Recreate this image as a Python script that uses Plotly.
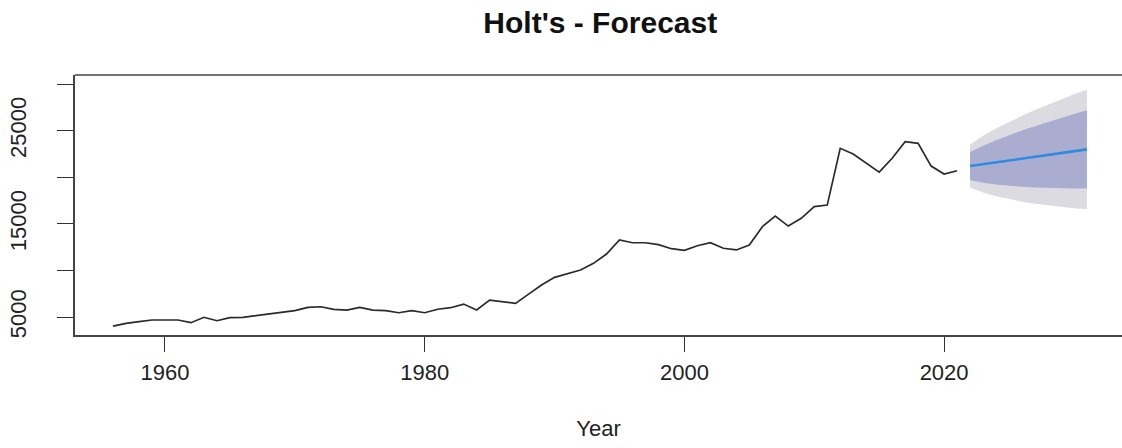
import plotly.graph_objects as go

# Annual series, 1956-2021
years = list(range(1956, 2022))
values = [
    4030, 4320, 4500, 4680, 4680, 4680, 4390, 4970, 4600, 4930,
    4970, 5140, 5290, 5500, 5680, 6040, 6100, 5830, 5750, 6040,
    5750, 5680, 5460, 5680, 5460, 5830, 6000, 6390, 5750, 6820,
    6640, 6470, 7450, 8430, 9260, 9690, 10040, 10760, 11760, 13260,
    12970, 12970, 12760, 12330, 12160, 12650, 12970, 12380, 12200, 12730,
    14690, 15840, 14760, 15590, 16850, 17010, 23100, 22490, 21490, 20550,
    22030, 23810, 23640, 21200, 20340, 20700,
]

# Holt's linear trend forecast, 10 steps ahead
fc_years = list(range(2022, 2032))
fc_mean = [21200, 21400, 21590, 21790, 21990, 22190, 22390, 22590, 22790, 22990]
lo80 = [19700, 19410, 19210, 19070, 18970, 18900, 18850, 18820, 18800, 18790]
hi80 = [22700, 23390, 23970, 24510, 25010, 25480, 25930, 26360, 26780, 27190]
lo95 = [18900, 18360, 17950, 17630, 17380, 17160, 16980, 16820, 16680, 16560]
hi95 = [23500, 24440, 25240, 25950, 26600, 27220, 27800, 28360, 28900, 29420]

y_ticks = [5000, 10000, 15000, 20000, 25000, 30000]
y_tick_text = ["5000", "", "15000", "", "25000", ""]
x_ticks = [1960, 1980, 2000, 2020]

FONT = "Liberation Sans, Arial, sans-serif"
FRAME = "#444444"

fig = go.Figure()

# 95% band
fig.add_trace(go.Scatter(
    x=fc_years + fc_years[::-1], y=hi95 + lo95[::-1],
    fill="toself", fillcolor="#DBDBE1", line=dict(width=0),
    mode="lines", hoverinfo="skip", showlegend=False,
))
# 80% band
fig.add_trace(go.Scatter(
    x=fc_years + fc_years[::-1], y=hi80 + lo80[::-1],
    fill="toself", fillcolor="#ABADD0", line=dict(width=0),
    mode="lines", hoverinfo="skip", showlegend=False,
))
# history
fig.add_trace(go.Scatter(
    x=years, y=values, mode="lines",
    line=dict(color="#2a2a2a", width=1.7), showlegend=False,
))
# point forecast
fig.add_trace(go.Scatter(
    x=fc_years, y=fc_mean, mode="lines",
    line=dict(color="#2E8BE0", width=2.6), showlegend=False,
))

fig.update_layout(
    width=1122, height=448,
    margin=dict(l=75, r=0, t=75, b=113),
    paper_bgcolor="white", plot_bgcolor="white",
    font=dict(family=FONT, color="#222222"),
    title=dict(
        text="<b>Holt's - Forecast</b>", x=0.535, xanchor="center",
        y=0.95, yanchor="middle", font=dict(size=30, color="#111111"),
    ),
    # top edge of the frame; the right edge runs off the page
    shapes=[dict(
        type="line", xref="paper", yref="paper", x0=0, x1=1, y0=1, y1=1,
        line=dict(color=FRAME, width=1.5),
    )],
)

fig.update_xaxes(
    range=[1953.07, 2033.7], tickmode="array", tickvals=x_ticks,
    ticks="outside", ticklen=15, tickcolor="#333333", tickwidth=1.3,
    showline=True, mirror=False, linecolor=FRAME, linewidth=1.5,
    showgrid=False, zeroline=False,
    tickfont=dict(size=22, color="#222222"), ticklabelstandoff=2,
    title=dict(text="Year", font=dict(size=22, color="#222222"), standoff=36),
)
fig.update_yaxes(
    range=[3070, 30970], tickmode="array", tickvals=y_ticks, ticktext=y_tick_text,
    ticks="outside", ticklen=16, tickcolor="#333333", tickwidth=1.3,
    showline=True, mirror=False, linecolor=FRAME, linewidth=1.5,
    showgrid=False, zeroline=False, tickangle=-90,
    tickfont=dict(size=22, color="#222222"), ticklabelstandoff=22,
)

fig.write_html("out.html")
